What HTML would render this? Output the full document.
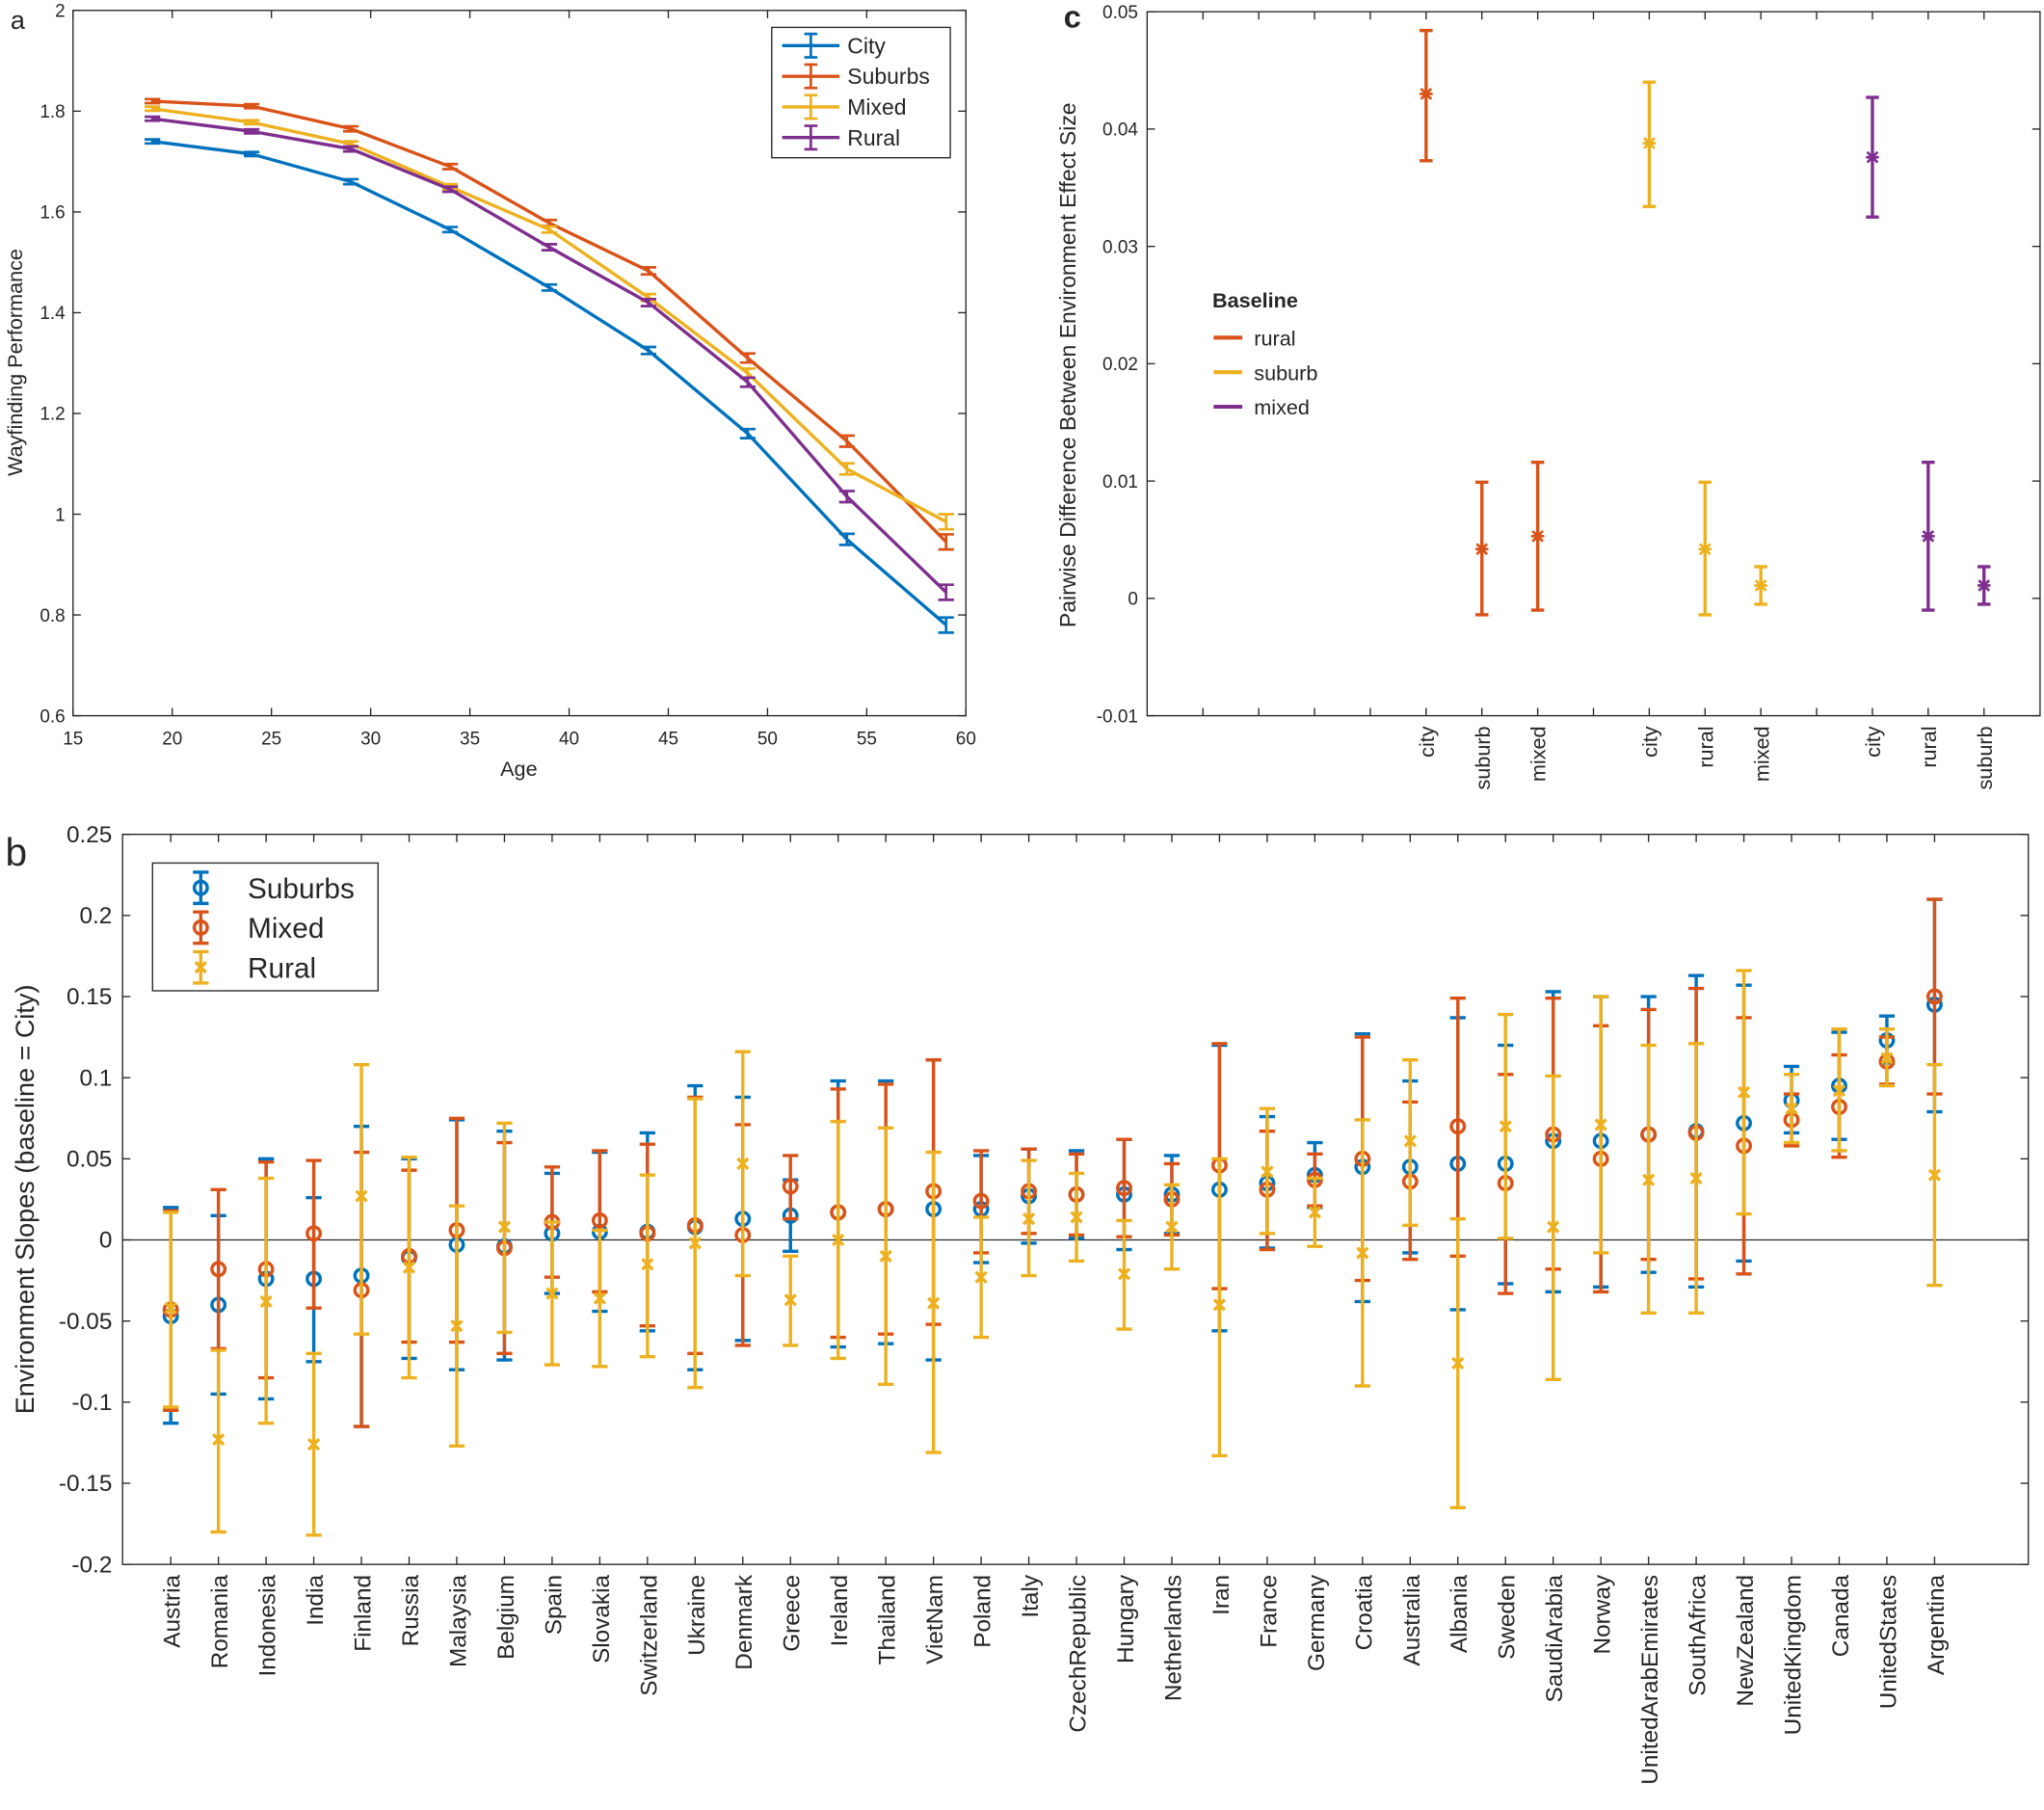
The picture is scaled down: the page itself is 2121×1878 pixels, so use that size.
<!DOCTYPE html>
<html><head><meta charset="utf-8"><style>html,body{margin:0;padding:0;background:#fff}svg{display:block}text{font-family:"Liberation Sans",Arial,sans-serif;fill:#262626}</style></head>
<body>
<svg id="s" width="2121" height="1878" viewBox="0 0 1568 1388.4" xmlns="http://www.w3.org/2000/svg"></svg>
<script>
const B='#0072BD',O='#D95319',Y='#EDB120',P='#7E2F8E';
let h='';
function L(x1,y1,x2,y2,c,w){h+=`<line x1="${x1}" y1="${y1}" x2="${x2}" y2="${y2}" stroke="${c}" stroke-width="${w}"/>`;}
function T(x,y,t,s,a,extra){h+=`<text x="${x}" y="${y}" font-size="${s}" text-anchor="${a||'middle'}" ${extra||''}>${t}</text>`;}
function R(x,y,t,s,a){h+=`<text transform="translate(${x},${y}) rotate(-90)" font-size="${s}" text-anchor="${a||'end'}">${t}</text>`;}
function eb(x,lo,hi,c,cw,w){L(x,lo,x,hi,c,w);L(x-cw,lo,x+cw,lo,c,w);L(x-cw,hi,x+cw,hi,c,w);}
// ---------- panel a
{const X=v=>56+(v-15)*685/45, Yv=v=>8+(2-v)*541/1.4;
h+=`<rect x="56" y="8" width="685" height="541" fill="none" stroke="#262626" stroke-width="1"/>`;
for(let v=15;v<=60;v+=5){const x=X(v);L(x,549,x,543,'#262626',1);L(x,8,x,14,'#262626',1);T(x,571,v,14);}
for(let i=0;i<=7;i++){const v=0.6+i*0.2,y=Yv(v);L(56,y,62,y,'#262626',1);L(741,y,735,y,'#262626',1);T(50,y+5,(Math.round(v*10)/10).toString(),14,'end');}
T(398,595,'Age',16);R(17,278,'Wayfinding Performance',16,'middle');
T(8,22,'a',20,'start');
const ages=[19,24,29,34,39,44,49,54,59];
const S=[[B,[1.74,1.715,1.66,1.565,1.45,1.325,1.16,0.95,0.78],[.004,.004,.005,.005,.006,.007,.009,.011,.015]],
[O,[1.82,1.81,1.765,1.69,1.578,1.483,1.31,1.145,0.945],[.004,.004,.005,.005,.006,.007,.009,.011,.015]],
[Y,[1.805,1.778,1.735,1.65,1.565,1.43,1.28,1.09,0.985],[.004,.004,.005,.005,.006,.007,.009,.011,.015]],
[P,[1.785,1.76,1.725,1.645,1.53,1.42,1.262,1.035,0.845],[.004,.004,.005,.005,.006,.007,.009,.011,.015]]];
for(const [c,d,e] of S){h+=`<polyline fill="none" stroke="${c}" stroke-width="2.5" points="${ages.map((a,i)=>X(a)+','+Yv(d[i])).join(' ')}"/>`;
ages.forEach((a,i)=>eb(X(a),Yv(d[i]-e[i]),Yv(d[i]+e[i]),c,6,2));}
h+=`<rect x="592" y="21" width="137" height="100" fill="#fff" stroke="#262626" stroke-width="1"/>`;
[['City',B],['Suburbs',O],['Mixed',Y],['Rural',P]].forEach(([n,c],i)=>{const y=35+i*23.5;L(600,y,644,y,c,2.5);eb(622,y-9,y+9,c,5,2);T(650,y+6,n,17,'start');});}
// ---------- panel c
{const X=k=>880+k*42.8, Yv=v=>9+(0.05-v)*540/0.06;
h+=`<rect x="880" y="9" width="685" height="540" fill="none" stroke="#262626" stroke-width="1"/>`;
for(let k=1;k<16;k++){L(X(k),549,X(k),543,'#262626',1);L(X(k),9,X(k),15,'#262626',1);}
for(let i=0;i<=6;i++){const v=-0.01+i*0.01,y=Yv(v);L(880,y,886,y,'#262626',1);L(1565,y,1559,y,'#262626',1);T(873,y+5,(Math.round(v*100)/100).toString(),14,'end');}
R(825,280,'Pairwise Difference Between Environment Effect Size',17,'middle');
T(816,21,'c',24,'start','font-weight="bold"');
const D=[[5,O,'city',.043,.0373,.0484],[6,O,'suburb',.0042,-.0014,.0099],[7,O,'mixed',.0053,-.001,.0116],
[9,Y,'city',.0388,.0334,.044],[10,Y,'rural',.0042,-.0014,.0099],[11,Y,'mixed',.0011,-.0005,.0027],
[13,P,'city',.0376,.0325,.0427],[14,P,'rural',.0053,-.001,.0116],[15,P,'suburb',.0011,-.0005,.0027]];
for(const [k,c,n,v,lo,hi] of D){const x=X(k);eb(x,Yv(lo),Yv(hi),c,5,2.5);const y=Yv(v);
L(x-4,y-4,x+4,y+4,c,2);L(x-4,y+4,x+4,y-4,c,2);L(x-5,y,x+5,y,c,2);L(x,y-5,x,y+5,c,2);
R(x+6,557,n,16);}
T(930,236,'Baseline',16,'start','font-weight="bold"');
[['rural',O],['suburb',Y],['mixed',P]].forEach(([n,c],i)=>{const y=259+i*26.5;L(931,y,953,y,c,3);T(962,y+6,n,16,'start');});}
// ---------- panel b
{const X=i=>94.4+i*36.57, Yv=v=>640+(0.25-v)*560/0.45;
h+=`<rect x="94" y="640" width="1462" height="560" fill="none" stroke="#262626" stroke-width="1"/>`;
L(94,Yv(0),1556,Yv(0),'#262626',1);
for(let i=0;i<=9;i++){const v=-0.2+i*0.05,y=Yv(v);L(94,y,100,y,'#262626',1);L(1556,y,1550,y,'#262626',1);T(86,y+6,(Math.round(v*100)/100).toString(),18,'end');}
R(26,920,'Environment Slopes (baseline = City)',20,'middle');
T(4,664,'b',30,'start');
const C=[['Austria',[-.047,-.113,.02],[-.043,-.105,.018],[-.042,-.103,.017]],
['Romania',[-.04,-.095,.015],[-.018,-.067,.031],[-.123,-.18,-.068]],
['Indonesia',[-.024,-.098,.05],[-.018,-.085,.048],[-.038,-.113,.038]],
['India',[-.024,-.075,.026],[.004,-.042,.049],[-.126,-.182,-.07]],
['Finland',[-.022,-.115,.07],[-.031,-.115,.054],[.027,-.058,.108]],
['Russia',[-.011,-.073,.05],[-.01,-.063,.043],[-.017,-.085,.051]],
['Malaysia',[-.003,-.08,.074],[.006,-.063,.075],[-.053,-.127,.021]],
['Belgium',[-.004,-.074,.067],[-.005,-.07,.06],[.008,-.057,.072]],
['Spain',[.004,-.033,.041],[.011,-.023,.045],[-.033,-.077,.011]],
['Slovakia',[.005,-.044,.054],[.012,-.032,.055],[-.036,-.078,.006]],
['Switzerland',[.005,-.056,.066],[.004,-.053,.059],[-.015,-.072,.04]],
['Ukraine',[.008,-.08,.095],[.009,-.07,.088],[-.002,-.091,.087]],
['Denmark',[.013,-.062,.088],[.003,-.065,.071],[.047,-.022,.116]],
['Greece',[.015,-.007,.037],[.033,.013,.052],[-.037,-.065,-.01]],
['Ireland',[.017,-.066,.098],[.017,-.06,.093],[0,-.073,.073]],
['Thailand',[.019,-.064,.098],[.019,-.058,.096],[-.01,-.089,.069]],
['VietNam',[.019,-.074,.111],[.03,-.052,.111],[-.039,-.131,.054]],
['Poland',[.019,-.014,.052],[.024,-.008,.055],[-.023,-.06,.014]],
['Italy',[.027,-.002,.056],[.03,.004,.056],[.013,-.022,.049]],
['CzechRepublic',[.028,.001,.055],[.028,.003,.053],[.014,-.013,.041]],
['Hungary',[.028,-.006,.062],[.032,.002,.062],[-.021,-.055,.012]],
['Netherlands',[.028,.004,.052],[.025,.003,.047],[.008,-.018,.034]],
['Iran',[.031,-.056,.12],[.046,-.03,.121],[-.04,-.133,.05]],
['France',[.035,-.005,.076],[.031,-.006,.067],[.042,.004,.081]],
['Germany',[.04,.02,.06],[.037,.021,.053],[.017,-.004,.038]],
['Croatia',[.045,-.038,.127],[.05,-.025,.125],[-.008,-.09,.074]],
['Australia',[.045,-.008,.098],[.036,-.012,.085],[.061,.009,.111]],
['Albania',[.047,-.043,.137],[.07,-.01,.149],[-.076,-.165,.013]],
['Sweden',[.047,-.027,.12],[.035,-.033,.102],[.07,.001,.139]],
['SaudiArabia',[.061,-.032,.153],[.065,-.018,.149],[.008,-.086,.101]],
['Norway',[.061,-.029,.15],[.05,-.032,.132],[.071,-.008,.15]],
['UnitedArabEmirates',[.065,-.02,.15],[.065,-.012,.142],[.037,-.045,.12]],
['SouthAfrica',[.067,-.029,.163],[.066,-.024,.155],[.038,-.045,.121]],
['NewZealand',[.072,-.013,.157],[.058,-.021,.137],[.091,.016,.166]],
['UnitedKingdom',[.086,.066,.107],[.074,.058,.09],[.081,.06,.102]],
['Canada',[.095,.062,.128],[.082,.051,.114],[.092,.055,.13]],
['UnitedStates',[.123,.109,.138],[.11,.096,.125],[.112,.095,.13]],
['Argentina',[.145,.079,.21],[.15,.09,.21],[.04,-.028,.108]]];
C.forEach((c,i)=>{const x=X(i+1);L(x,1200,x,1194,'#262626',1);L(x,640,x,646,'#262626',1);R(x+7,1208,c[0],18);});
const cols=[B,O,Y];
for(let s=0;s<3;s++)C.forEach((c,i)=>{const x=X(i+1),[v,lo,hi]=c[s+1],col=cols[s];eb(x,Yv(lo),Yv(hi),col,6,2.5);const y=Yv(v);
if(s<2)h+=`<circle cx="${x}" cy="${y}" r="5" fill="none" stroke="${col}" stroke-width="2.5"/>`;else{L(x-4,y-4,x+4,y+4,col,2.5);L(x-4,y+4,x+4,y-4,col,2.5);}});
h+=`<rect x="117" y="662" width="173" height="98" fill="#fff" stroke="#262626" stroke-width="1"/>`;
[['Suburbs',B],['Mixed',O],['Rural',Y]].forEach(([n,c],i)=>{const y=681+i*30.5;eb(154,y-12,y+12,c,6,2.5);
if(i<2)h+=`<circle cx="154" cy="${y}" r="5" fill="none" stroke="${c}" stroke-width="2.5"/>`;else{L(150,y-4,158,y+4,c,2.5);L(150,y+4,158,y-4,c,2.5);}
T(190,y+8,n,22,'start');});}
document.getElementById('s').innerHTML=h;
</script>
</body></html>
